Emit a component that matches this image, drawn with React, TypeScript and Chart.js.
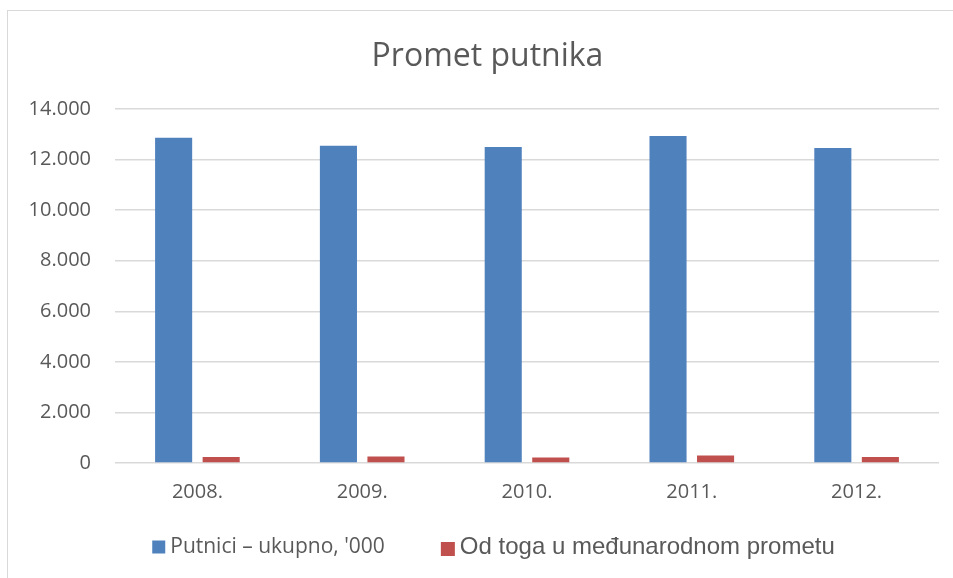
import React, { useEffect, useRef } from "react";
import { Chart, registerables } from "chart.js";

Chart.register(...registerables);

const categories = ["2008.", "2009.", "2010.", "2011.", "2012."];
const totalPassengers = [12860, 12550, 12500, 12930, 12460];
const internationalPassengers = [235, 255, 220, 300, 235];
const seriesNames = ["Putnici – ukupno, '000", "Od toga u međunarodnom prometu"];
const seriesColors = ["#4F81BD", "#C0504D"];
const chartTitle = "Promet putnika";

const TEXT = "#595959";
const GRID = "#d9d9d9";

const legendFonts = ["21px 'Open Sans'", "24px 'Liberation Sans'"];

const legendPlugin = {
  id: "customLegend",
  afterDraw(chart: any) {
    const ctx = chart.ctx as CanvasRenderingContext2D;
    const gapText = 5;
    const gapItems = 56;
    const sizes = [13, 14];
    ctx.save();
    // title
    ctx.font = "32px 'Open Sans'";
    ctx.fillStyle = TEXT;
    ctx.textAlign = "center";
    ctx.textBaseline = "alphabetic";
    ctx.fillText(chartTitle, chart.width / 2 + 7, 55);
    // legend
    const widths = chart.data.datasets.map((ds: any, i: number) => {
      ctx.font = legendFonts[i];
      return sizes[i] + gapText + ctx.measureText(ds.label).width;
    });
    const total = widths.reduce((a: number, b: number) => a + b, 0) + gapItems * (widths.length - 1);
    const centerX = chart.width / 2 + 13;
    const y = chart.height - 31;
    let x = centerX - total / 2;
    chart.data.datasets.forEach((ds: any, i: number) => {
      const size = sizes[i];
      ctx.fillStyle = ds.backgroundColor;
      ctx.fillRect(x, y - size / 2 + i * 2, size, size);
      ctx.font = legendFonts[i];
      ctx.fillStyle = TEXT;
      ctx.textBaseline = "middle";
      ctx.textAlign = "left";
      ctx.fillText(ds.label, x + size + gapText, y);
      x += widths[i] + gapItems;
    });
    ctx.restore();
  },
};

function fmt(v: number) {
  return String(Math.round(v)).replace(/\B(?=(\d{3})+(?!\d))/g, ".");
}

export default function App() {
  const ref = useRef<HTMLCanvasElement | null>(null);
  useEffect(() => {
    if (!ref.current) return;
    const chart = new Chart(ref.current, {
      type: "bar",
      data: {
        labels: categories,
        datasets: [
          {
            label: seriesNames[0],
            data: totalPassengers,
            backgroundColor: seriesColors[0],
            categoryPercentage: 0.577,
            barPercentage: 0.78,
          },
          {
            label: seriesNames[1],
            data: internationalPassengers,
            backgroundColor: seriesColors[1],
            categoryPercentage: 0.577,
            barPercentage: 0.78,
          },
        ],
      },
      options: {
        animation: false,
        responsive: false,
        devicePixelRatio: 1,
        layout: { padding: { left: 16, right: 14, top: 98, bottom: 74 } },
        plugins: {
          legend: { display: false },
          tooltip: { enabled: false },
          title: { display: false },
        },
        scales: {
          x: {
            grid: { display: false, drawTicks: false },
            border: { display: false },
            ticks: {
              color: TEXT,
              font: { family: "'Open Sans'", size: 20 },
              padding: 17,
            },
            afterFit: (scale: any) => {
              scale.height = 41;
            },
          },
          y: {
            min: 0,
            max: 14000,
            grid: { color: GRID, lineWidth: 1.5, drawTicks: false },
            border: { display: false },
            ticks: {
              stepSize: 2000,
              color: TEXT,
              font: { family: "'Open Sans'", size: 20 },
              padding: 24,
              callback: (v: any) => fmt(Number(v)),
            },
            afterFit: (scale: any) => {
              scale.width = 91;
            },
          },
        },
      },
      plugins: [legendPlugin],
    });
    return () => chart.destroy();
  }, []);
  return (
    <div
      style={{
        position: "absolute",
        left: 7,
        top: 10,
        width: 946,
        height: 568,
        borderLeft: `1px solid ${GRID}`,
        borderTop: `1px solid ${GRID}`,
        background: "#fff",
      }}
    >
      <canvas ref={ref} width={945} height={567} style={{ display: "block", width: 945, height: 567 }} />
    </div>
  );
}
